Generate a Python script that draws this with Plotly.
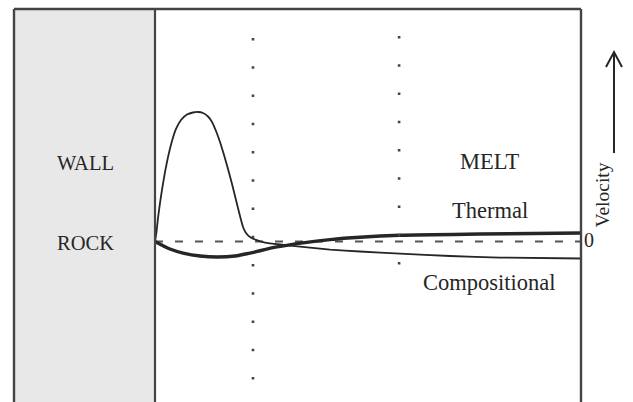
import plotly.graph_objects as go

# Distance from the wall (x / L, wall at 0) and velocity (peak of compositional = 1)
comp_x = [0.0, 0.0035, 0.0070, 0.0117, 0.0164, 0.0235, 0.0305, 0.0399, 0.0493,
          0.0610, 0.0751, 0.0892, 0.1009, 0.1127, 0.1244, 0.1338, 0.1432, 0.1526,
          0.1620, 0.1714, 0.1808, 0.1901, 0.1995, 0.2066, 0.2136, 0.2230, 0.2371,
          0.2582, 0.2934, 0.3404, 0.4108, 0.4812, 0.5751, 0.6925, 0.8099, 1.0]
comp_v = [0.0, 0.073, 0.181, 0.297, 0.398, 0.537, 0.652, 0.776, 0.869,
          0.938, 0.980, 0.996, 1.0, 0.992, 0.965, 0.923, 0.853, 0.768,
          0.668, 0.560, 0.444, 0.320, 0.197, 0.112, 0.066, 0.035, 0.012,
          -0.008, -0.023, -0.039, -0.062, -0.077, -0.093, -0.112, -0.124, -0.131]

therm_x = [0.0, 0.035, 0.066, 0.106, 0.146, 0.188, 0.223, 0.286, 0.347,
           0.411, 0.481, 0.575, 0.763, 1.0]
therm_v = [0.0, -0.058, -0.089, -0.112, -0.120, -0.112, -0.089, -0.042, -0.010,
           0.015, 0.033, 0.048, 0.058, 0.066]

# dotted reference positions (x) and their vertical extents (velocity units)
guide_x = [0.230, 0.573]
guide_top = [1.571, 1.587]
guide_bottom = [-1.07, -0.19]

X_RANGE = [-0.331, 1.0]
Y_RANGE = [-1.239, 1.795]

INK = "#262626"
SERIF = "Liberation Serif"

fig = go.Figure()

fig.add_trace(go.Scatter(x=[0, 1], y=[0, 0], mode="lines",
                         line=dict(color="#555555", width=2, dash="8px,12px"),
                         hoverinfo="skip"))
fig.add_trace(go.Scatter(x=comp_x, y=comp_v, mode="lines",
                         line=dict(color=INK, width=1.8, shape="spline", smoothing=0.4),
                         name="Compositional"))
fig.add_trace(go.Scatter(x=therm_x, y=therm_v, mode="lines",
                         line=dict(color=INK, width=3.4, shape="spline", smoothing=0.8),
                         name="Thermal"))

shapes = []
# rock wall
shapes.append(dict(type="rect", xref="x", yref="paper", x0=X_RANGE[0], x1=0, y0=0, y1=1,
                   fillcolor="#e8e8e8", line=dict(width=0), layer="below"))
shapes.append(dict(type="line", xref="x", yref="paper", x0=0, x1=0, y0=0, y1=1,
                   line=dict(color="#444444", width=2.2)))
# frame: left, top, right
for x0, x1, y0, y1 in [(0, 0, 0, 1), (0, 1, 1, 1), (1, 1, 0, 1)]:
    shapes.append(dict(type="line", xref="paper", yref="paper", x0=x0, x1=x1, y0=y0, y1=y1,
                       line=dict(color="#444444", width=2.4)))
# dotted guides
for gx, gt, gb in zip(guide_x, guide_top, guide_bottom):
    shapes.append(dict(type="line", xref="x", yref="y", x0=gx, x1=gx, y0=gt, y1=gb,
                       line=dict(color="#444444", width=2.6, dash="2.6px,25.65px")))

# velocity arrow (paper coordinates in the right margin)
def px(xp, yp):
    return (xp - 14) / 567, (402 - yp) / 393

ax0, ay0 = px(614, 153)
ax1, ay1 = px(614, 52)
lx, ly = px(606, 67)
rx, ry = px(622, 67)
shapes.append(dict(type="line", xref="paper", yref="paper", x0=ax0, x1=ax1, y0=ay0, y1=ay1,
                   line=dict(color=INK, width=2)))
shapes.append(dict(type="path", xref="paper", yref="paper",
                   path=f"M{lx},{ly} L{ax1},{ay1} L{rx},{ry}",
                   line=dict(color=INK, width=2)))

def label(text, x, y, size, **kw):
    return dict(text=text, x=x, y=y, showarrow=False,
                font=dict(family=SERIF, size=size, color=INK), **kw)

annotations = [
    label("WALL", -0.164, 0.606, 20.5),
    label("ROCK", -0.164, -0.012, 20.5),
    label("MELT", 0.786, 0.614, 22.5),
    label("Thermal", 0.786, 0.243, 22.5),
    label("Compositional", 0.786, -0.320, 22.5),
    label("0", px(596, 0)[0], 0.01, 20, xref="paper", yref="y"),
    label("Velocity", px(615, 0)[0], 0.359, 19.5, xref="paper", yref="y", textangle=-90),
]

fig.update_layout(
    width=633, height=402,
    margin=dict(l=14, r=52, t=9, b=0),
    paper_bgcolor="white", plot_bgcolor="white",
    showlegend=False,
    xaxis=dict(range=X_RANGE, visible=False, fixedrange=True),
    yaxis=dict(range=Y_RANGE, visible=False, fixedrange=True),
    shapes=shapes, annotations=annotations,
)

fig.write_html("out.html")
